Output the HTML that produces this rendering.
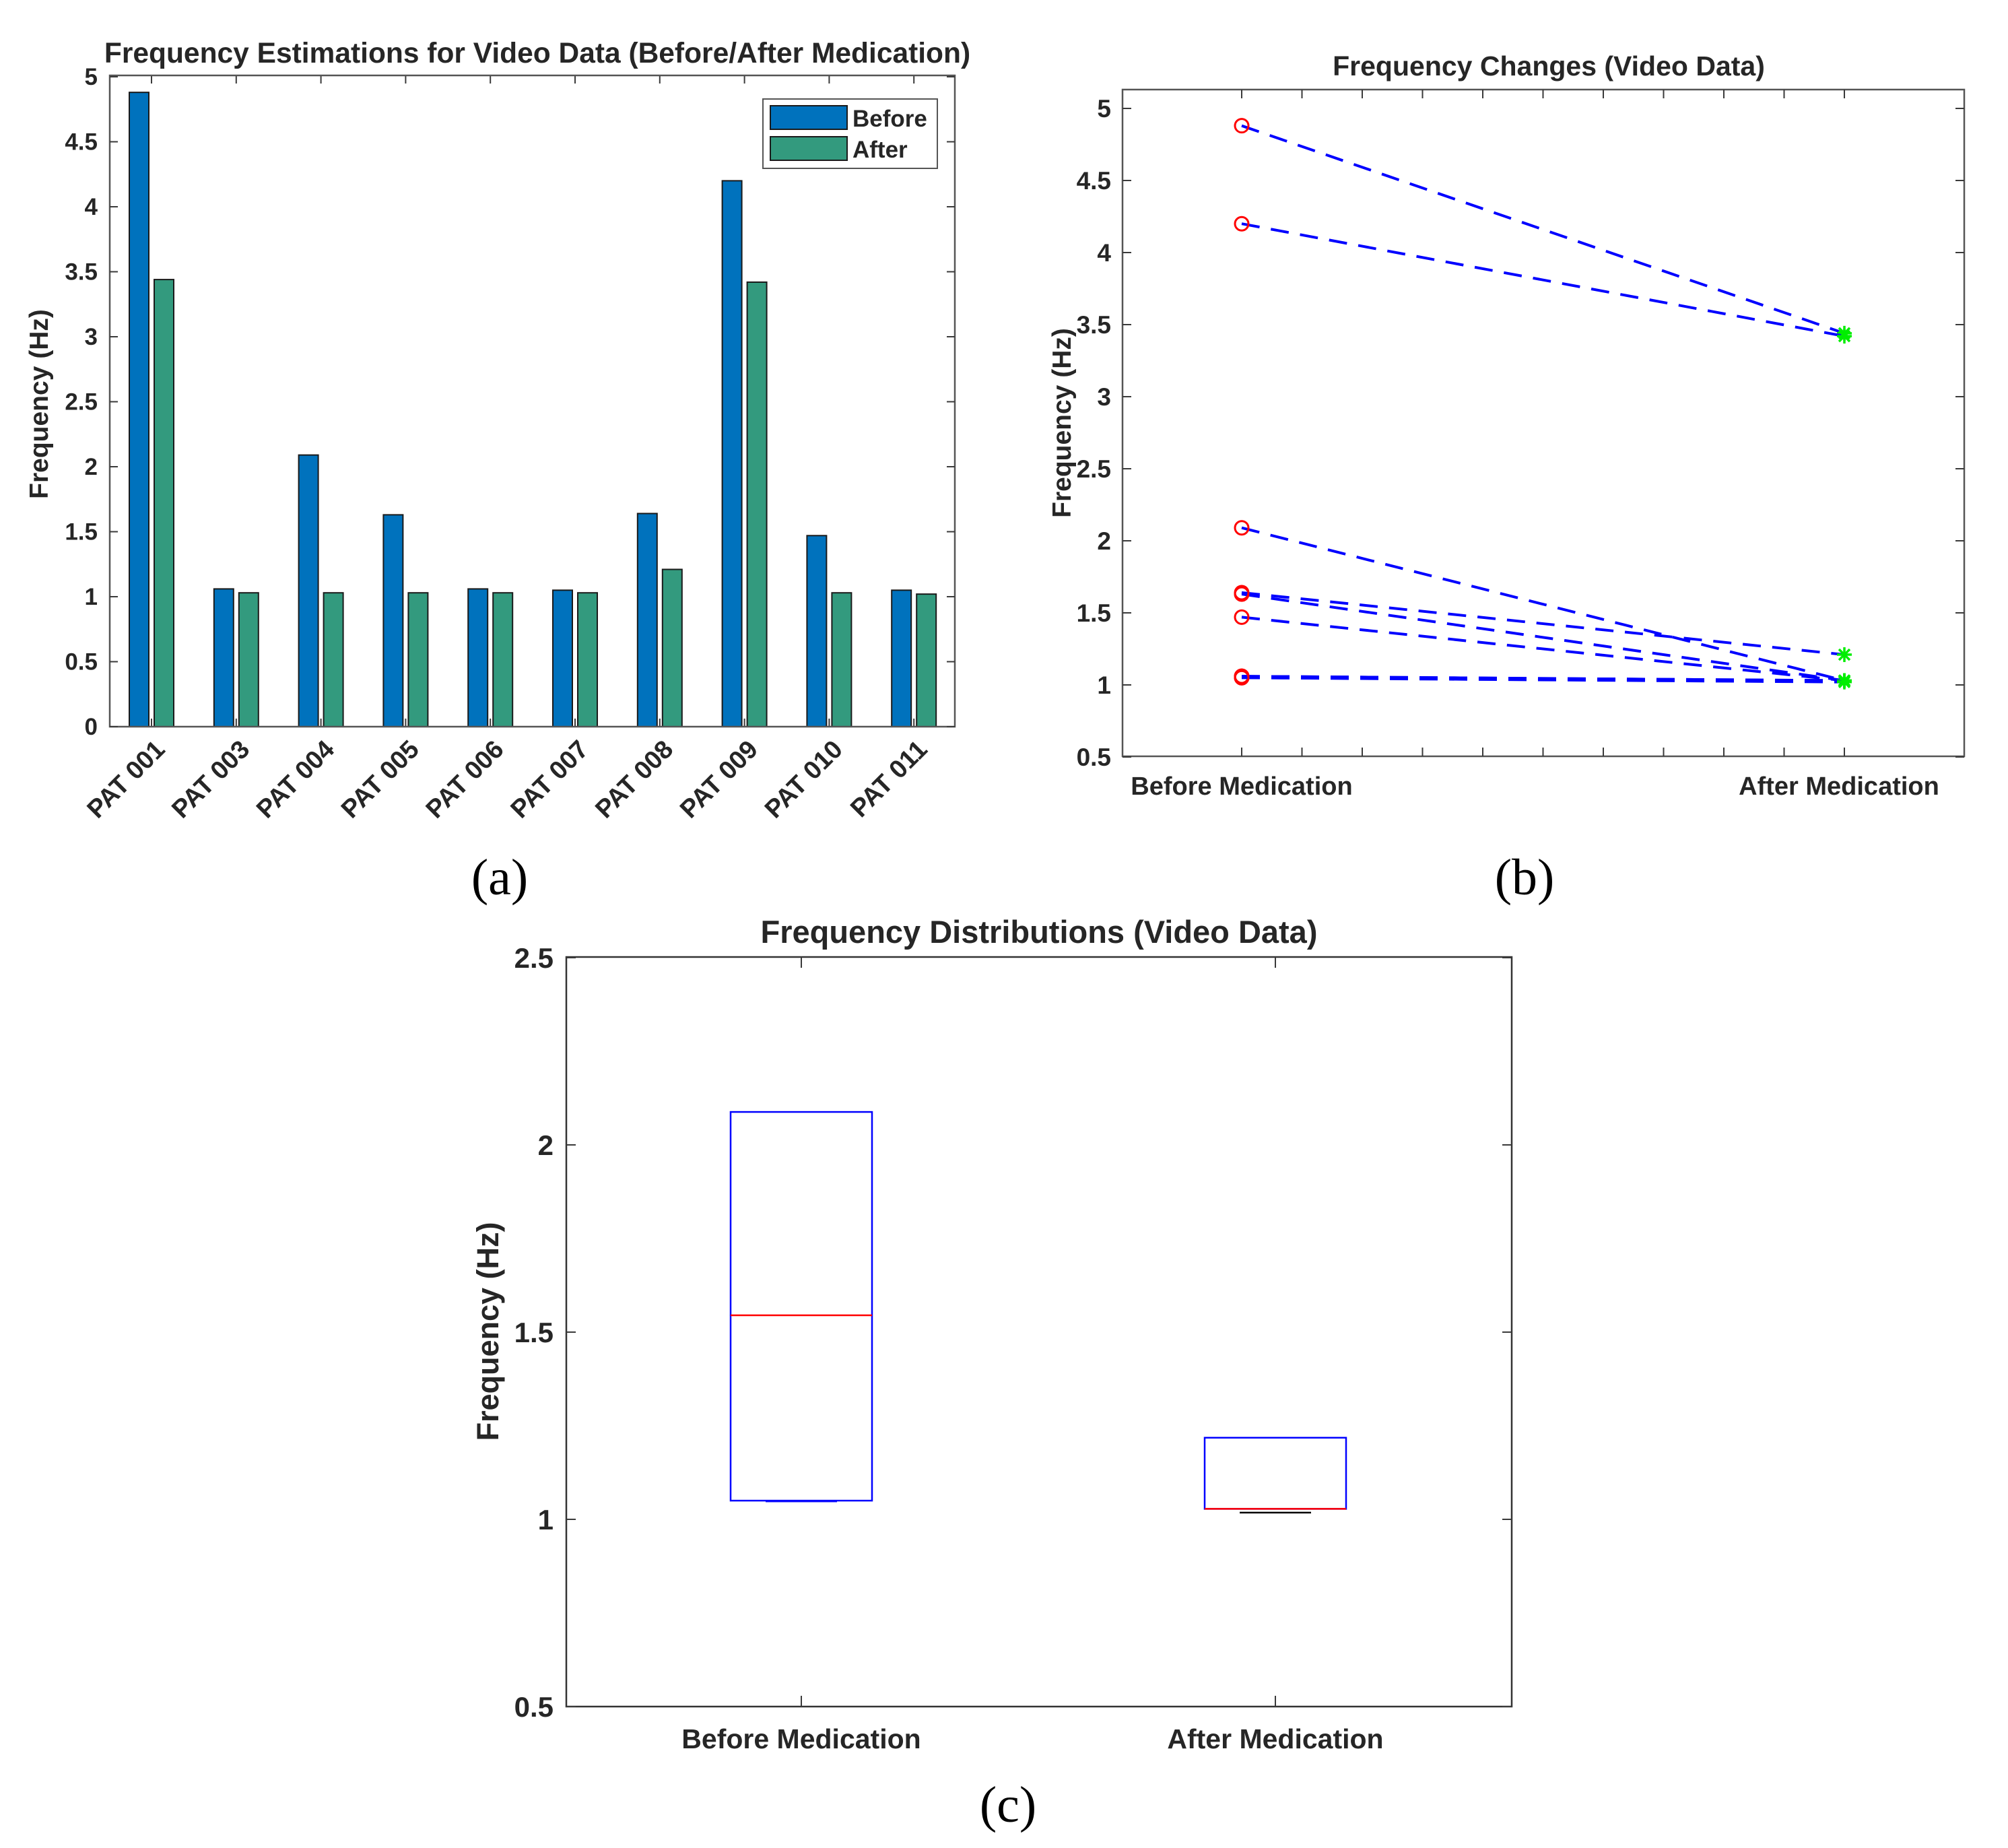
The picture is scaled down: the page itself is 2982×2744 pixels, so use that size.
<!DOCTYPE html>
<html><head><meta charset="utf-8"><style>
html,body{margin:0;padding:0;background:#fff;}
svg{display:block;}
text{font-family:"Liberation Sans",Arial,sans-serif;}
.t{font-weight:bold;fill:#262626;}
</style></head><body>
<svg id="fig" width="2982" height="2744" viewBox="0 0 2982 2744">
</svg>
<script>
// ---- data ----
const patients = ["PAT 001","PAT 003","PAT 004","PAT 005","PAT 006","PAT 007","PAT 008","PAT 009","PAT 010","PAT 011"];
const beforeVals = [4.88,1.06,2.09,1.63,1.06,1.05,1.64,4.20,1.47,1.05];
const afterVals  = [3.44,1.03,1.03,1.03,1.03,1.03,1.21,3.42,1.03,1.02];
const yTicksA = [0,0.5,1,1.5,2,2.5,3,3.5,4,4.5,5];
const yTicksB = [0.5,1,1.5,2,2.5,3,3.5,4,4.5,5];
const groupsB = ["Before Medication","After Medication"];
const boxQ1 = [1.05,1.028];
const boxMed = [1.545,1.028];
const boxQ3 = [2.088,1.218];
const boxLow = [1.048,1.018];
const yTicksC = [0.5,1,1.5,2,2.5];

const NS="http://www.w3.org/2000/svg";
const svg=document.getElementById('fig');
function el(tag,attrs,parent,txt){const e=document.createElementNS(NS,tag);for(const k in attrs)e.setAttribute(k,attrs[k]);if(txt!==undefined)e.textContent=txt;(parent||svg).appendChild(e);return e;}
function grp(name){const g=el('g',{});return g;}
const AX='#3a3a3a';

// ---- Panel A ----
(function(){
 const g=grp('panel-a-bar-chart');
 const L=163,R=1418,T=112,B=1079;
 const y=v=>B-v*193;
 const x=i=>225+i*125.8;
 const title=el('text',{x:798,y:93,'text-anchor':'middle','font-size':42.5,class:'t',fill:'#000'},g,'Frequency Estimations for Video Data (Before/After Medication)');
 
 for(let i=0;i<patients.length;i++){
  const b=el('rect',{x:x(i)-33,y:y(beforeVals[i]),width:29,height:B-y(beforeVals[i]),fill:'#0072bd',stroke:'#1a1a1a','stroke-width':2},g);
  
  const a=el('rect',{x:x(i)+4,y:y(afterVals[i]),width:29,height:B-y(afterVals[i]),fill:'#339a7e',stroke:'#1a1a1a','stroke-width':2},g);
  
  el('line',{x1:x(i),x2:x(i),y1:T,y2:T+12,stroke:AX,'stroke-width':2},g);
  el('line',{x1:x(i),x2:x(i),y1:B,y2:B-12,stroke:AX,'stroke-width':2},g);
  const lx=x(i)+22,ly=B+36;
  const lb=el('text',{x:lx,y:ly,'text-anchor':'end','font-size':38,class:'t',transform:`rotate(-45 ${lx} ${ly})`},g,patients[i]);
  
 }
 el('rect',{x:L,y:T,width:R-L,height:B-T,fill:'none',stroke:'#555','stroke-width':2.5},g);
 yTicksA.forEach(v=>{
  el('line',{x1:L,x2:L+12,y1:y(v),y2:y(v),stroke:AX,'stroke-width':2},g);
  el('line',{x1:R,x2:R-12,y1:y(v),y2:y(v),stroke:AX,'stroke-width':2},g);
  const t=el('text',{x:L-18,y:y(v)+12,'text-anchor':'end','font-size':35,class:'t'},g,String(v));
  
 });
 const yl=el('text',{x:71,y:600,'text-anchor':'middle','font-size':39,class:'t',transform:'rotate(-90 71 600)'},g,'Frequency (Hz)');
 
 const lg=el('g',{},g);
 el('rect',{x:1133,y:147,width:259,height:103,fill:'#fff',stroke:'#555','stroke-width':2},lg);
 el('rect',{x:1144,y:157,width:114,height:35,fill:'#0072bd',stroke:'#1a1a1a','stroke-width':2},lg);
 el('rect',{x:1144,y:203,width:114,height:35,fill:'#339a7e',stroke:'#1a1a1a','stroke-width':2},lg);
 el('text',{x:1266,y:188,'font-size':35,class:'t'},lg,'Before');
 el('text',{x:1266,y:234,'font-size':35,class:'t'},lg,'After');
 el('text',{x:742,y:1328,'text-anchor':'middle','font-size':76,style:'font-family:"Liberation Serif",serif'},g,'(a)');
})();

// ---- Panel B ----
(function(){
 const g=grp('panel-b-line-chart');
 const L=1667,R=2917,T=133,B=1123;
 const y=v=>1017-(v-1)*214;
 const xs=[1844,2739];
 const title=el('text',{x:2300,y:112,'text-anchor':'middle','font-size':41,class:'t',fill:'#000'},g,'Frequency Changes (Video Data)');
 
 el('rect',{x:L,y:T,width:R-L,height:B-T,fill:'none',stroke:'#555','stroke-width':2.5},g);
 for(let k=0;k<=10;k++){const xx=xs[0]+k*(xs[1]-xs[0])/10;
  el('line',{x1:xx,x2:xx,y1:B,y2:B-13,stroke:AX,'stroke-width':2},g);el('line',{x1:xx,x2:xx,y1:T,y2:T+13,stroke:AX,'stroke-width':2},g);}
 yTicksB.forEach(v=>{
  el('line',{x1:L,x2:L+13,y1:y(v),y2:y(v),stroke:AX,'stroke-width':2},g);
  el('line',{x1:R,x2:R-13,y1:y(v),y2:y(v),stroke:AX,'stroke-width':2},g);
  const t=el('text',{x:1650,y:y(v)+13,'text-anchor':'end','font-size':37,class:'t'},g,String(v));
  
 });
 groupsB.forEach((s,i)=>{const t=el('text',{x:xs[i]-(i?8:0),y:1180,'text-anchor':'middle','font-size':38,class:'t'},g,s);
  });
 for(let i=0;i<beforeVals.length;i++){
  const ln=el('line',{x1:xs[0],y1:y(beforeVals[i]),x2:xs[1],y2:y(afterVals[i]),stroke:'#0000ff','stroke-width':4,'stroke-dasharray':'27 17'},g);
  
  const c=el('circle',{cx:xs[0],cy:y(beforeVals[i]),r:10,fill:'none',stroke:'#ff0000','stroke-width':3},g);
  
  const st=el('g',{transform:`translate(${xs[1]} ${y(afterVals[i])})`,stroke:'#00ee00','stroke-width':3.5},g);
  
  el('line',{x1:-11,y1:0,x2:11,y2:0},st);el('line',{x1:0,y1:-11,x2:0,y2:11},st);
  el('line',{x1:-8,y1:-8,x2:8,y2:8},st);el('line',{x1:-8,y1:8,x2:8,y2:-8},st);
 }
 const yl=el('text',{x:1590,y:628,'text-anchor':'middle','font-size':39,class:'t',transform:'rotate(-90 1590 628)'},g,'Frequency (Hz)');
 
 el('text',{x:2264,y:1328,'text-anchor':'middle','font-size':76,style:'font-family:"Liberation Serif",serif'},g,'(b)');
})();

// ---- Panel C ----
(function(){
 const g=grp('panel-c-box-plot');
 const L=841,R=2245,T=1421,B=2534;
 const y=v=>B-(v-0.5)*556;
 const xs=[1190,1894];
 const title=el('text',{x:1543,y:1400,'text-anchor':'middle','font-size':47,class:'t',fill:'#000'},g,'Frequency Distributions (Video Data)');
 
 el('rect',{x:L,y:T,width:R-L,height:B-T,fill:'none',stroke:'#333','stroke-width':2.5},g);
 yTicksC.forEach(v=>{
  el('line',{x1:L,x2:L+14,y1:y(v),y2:y(v),stroke:AX,'stroke-width':2},g);
  el('line',{x1:R,x2:R-14,y1:y(v),y2:y(v),stroke:AX,'stroke-width':2},g);
  const t=el('text',{x:822,y:y(v)+15,'text-anchor':'end','font-size':42,class:'t'},g,String(v));
  
 });
 groupsB.forEach((s,i)=>{
  el('line',{x1:xs[i],x2:xs[i],y1:B,y2:B-16,stroke:AX,'stroke-width':2},g);
  el('line',{x1:xs[i],x2:xs[i],y1:T,y2:T+16,stroke:AX,'stroke-width':2},g);
  const t=el('text',{x:xs[i],y:2596,'text-anchor':'middle','font-size':41,class:'t'},g,s);
  
  el('line',{x1:xs[i]-53,x2:xs[i]+53,y1:y(boxLow[i]),y2:y(boxLow[i]),stroke:i?'#000':'#0000ff','stroke-width':2.5},g);
  const b=el('rect',{x:xs[i]-105,y:y(boxQ3[i]),width:210,height:y(boxQ1[i])-y(boxQ3[i]),fill:'none',stroke:'#0000ff','stroke-width':2.5},g);
  
  const m=el('line',{x1:xs[i]-105,x2:xs[i]+105,y1:y(boxMed[i]),y2:y(boxMed[i]),stroke:'#ff0000','stroke-width':2.5},g);
  
 });
 const yl=el('text',{x:740,y:1977,'text-anchor':'middle','font-size':45,class:'t',transform:'rotate(-90 740 1977)'},g,'Frequency (Hz)');
 
 el('text',{x:1497,y:2705,'text-anchor':'middle','font-size':76,style:'font-family:"Liberation Serif",serif'},g,'(c)');
})();
</script>
</body></html>
